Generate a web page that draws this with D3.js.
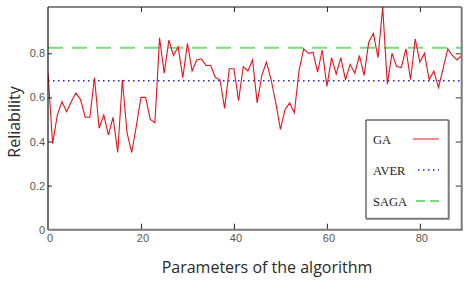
<!DOCTYPE html>
<html>
<head>
<meta charset="utf-8">
<script src="https://cdn.jsdelivr.net/npm/d3@7"></script>
<style>
  body { margin: 0; background: #fff; }
  .tick text { font-family: "Liberation Sans", Arial, sans-serif; font-size: 11px; fill: #555; }
  .axis-title { font-family: "Open Sans", sans-serif; font-size: 16px; fill: #2a2a2a; }
  .legend-label { font-family: "Liberation Serif", "Times New Roman", serif; font-size: 12.5px; fill: #222; }
</style>
</head>
<body>
<div id="chart"></div>
<script>
// x positions 0..89, GA reliability
const gaValues = [
  0.71, 0.39, 0.52, 0.58, 0.535, 0.58, 0.62, 0.59, 0.51, 0.51,
  0.69, 0.46, 0.52, 0.43, 0.51, 0.35, 0.68, 0.44, 0.35, 0.47,
  0.60, 0.60, 0.50, 0.485, 0.87, 0.71, 0.86, 0.79, 0.83, 0.69,
  0.845, 0.72, 0.77, 0.775, 0.745, 0.745, 0.69, 0.68, 0.55, 0.73,
  0.73, 0.585, 0.74, 0.72, 0.77, 0.575, 0.70, 0.76, 0.68, 0.575,
  0.455, 0.545, 0.575, 0.53, 0.72, 0.82, 0.80, 0.805, 0.715, 0.815,
  0.65, 0.78, 0.705, 0.78, 0.68, 0.75, 0.71, 0.79, 0.70, 0.85,
  0.89, 0.78, 1.01, 0.66, 0.80, 0.74, 0.735, 0.82, 0.68, 0.865,
  0.76, 0.80, 0.68, 0.72, 0.645, 0.73, 0.82, 0.79, 0.77, 0.79
];
const averValue = 0.676;
const sagaValue = 0.825;
const xTicks = [0, 20, 40, 60, 80];
const yTicks = [0, 0.2, 0.4, 0.6, 0.8];
const yTickLabels = ['0', '0.2', '0.4', '0.6', '0.8'];
const legendLabels = ['GA', 'AVER', 'SAGA'];

class ReliabilityChart {
  constructor(_config) {
    this.config = {
      parentElement: _config.parentElement,
      containerWidth: 470,
      containerHeight: 287,
      margin: { top: 7, left: 48, right: 8.3, bottom: 57.3 },
    };
    this.initVis();
  }

  initVis() {
    let vis = this;
    vis.width = vis.config.containerWidth - vis.config.margin.left - vis.config.margin.right;
    vis.height = vis.config.containerHeight - vis.config.margin.top - vis.config.margin.bottom;

    vis.svg = d3.select(vis.config.parentElement)
      .append('svg')
      .attr('width', vis.config.containerWidth)
      .attr('height', vis.config.containerHeight);

    vis.chart = vis.svg.append('g')
      .attr('transform', `translate(${vis.config.margin.left},${vis.config.margin.top})`);

    vis.xScale = d3.scaleLinear().domain([0, 89]).range([0, vis.width]);
    vis.yScale = d3.scaleLinear().domain([0, 1.01]).range([vis.height, 0]);

    vis.chart.append('clipPath').attr('id', 'plot-clip')
      .append('rect').attr('width', vis.width).attr('height', vis.height);

    vis.renderVis();
  }

  renderVis() {
    let vis = this;
    const plot = vis.chart.append('g').attr('clip-path', 'url(#plot-clip)');

    // reference lines
    plot.append('line')
      .attr('x1', 0).attr('x2', vis.width)
      .attr('y1', vis.yScale(sagaValue)).attr('y2', vis.yScale(sagaValue))
      .attr('stroke', '#77dd77').attr('stroke-width', 2)
      .attr('stroke-dasharray', '15,9');

    plot.append('line')
      .attr('x1', 0).attr('x2', vis.width)
      .attr('y1', vis.yScale(averValue)).attr('y2', vis.yScale(averValue))
      .attr('stroke', '#2626b8').attr('stroke-width', 1.5)
      .attr('stroke-dasharray', '1.5,3.5');

    const line = d3.line()
      .x((d, i) => vis.xScale(i))
      .y(d => vis.yScale(d));

    plot.append('path')
      .datum(gaValues)
      .attr('d', line)
      .attr('fill', 'none')
      .attr('stroke', '#e4141e')
      .attr('stroke-width', 1.1);

    // axes with inward ticks
    const yAxis = d3.axisLeft(vis.yScale).tickValues(yTicks)
      .tickFormat((d, i) => yTickLabels[i]).tickSize(-4).tickPadding(3);
    const yAxisG = vis.chart.append('g').call(yAxis);
    yAxisG.select('.domain').remove();
    yAxisG.selectAll('.tick line').attr('stroke', '#222').filter(d => d === 0).remove();

    const xAxis = d3.axisBottom(vis.xScale).tickValues(xTicks).tickSize(-6).tickPadding(5);
    const xAxisG = vis.chart.append('g').attr('transform', `translate(0,${vis.height})`).call(xAxis);
    xAxisG.select('.domain').remove();
    xAxisG.selectAll('.tick line').attr('stroke', '#222').filter(d => d === 0).remove();
    xAxisG.selectAll('.tick text').attr('dx', 1.5);

    const topAxisG = vis.chart.append('g')
      .call(d3.axisTop(vis.xScale).tickValues(xTicks.slice(1)).tickFormat('').tickSize(-5));
    topAxisG.select('.domain').remove();
    topAxisG.selectAll('.tick line').attr('stroke', '#222');

    const rightAxisG = vis.chart.append('g').attr('transform', `translate(${vis.width},0)`)
      .call(d3.axisRight(vis.yScale).tickValues(yTicks.slice(1)).tickFormat('').tickSize(-6));
    rightAxisG.select('.domain').remove();
    rightAxisG.selectAll('.tick line').attr('stroke', '#333');

    // frame
    vis.chart.append('line').attr('x1', 0).attr('x2', vis.width).attr('y1', 0).attr('y2', 0)
      .attr('stroke', '#111').attr('stroke-width', 1.2);
    vis.chart.append('line').attr('x1', 0).attr('x2', 0).attr('y1', 0).attr('y2', vis.height)
      .attr('stroke', '#111').attr('stroke-width', 1.2);
    vis.chart.append('line').attr('x1', 0).attr('x2', vis.width + 1).attr('y1', vis.height).attr('y2', vis.height)
      .attr('stroke', '#7a7a7a').attr('stroke-width', 2);
    vis.chart.append('line').attr('x1', vis.width).attr('x2', vis.width).attr('y1', 0).attr('y2', vis.height)
      .attr('stroke', '#7a7a7a').attr('stroke-width', 2);

    // axis titles
    vis.svg.append('text')
      .attr('class', 'axis-title')
      .attr('x', 267).attr('y', 273)
      .attr('text-anchor', 'middle')
      .text('Parameters of the algorithm');

    vis.svg.append('text')
      .attr('class', 'axis-title')
      .attr('transform', 'translate(20,122) rotate(-90)')
      .attr('text-anchor', 'middle')
      .text('Reliability');

    // legend
    const lg = vis.svg.append('g').attr('transform', 'translate(366,120)');
    const lw = 82.7, lh = 98.7;
    lg.append('rect').attr('width', lw).attr('height', lh).attr('fill', '#fff');
    lg.append('path').attr('d', `M0,${lh}V0H${lw}`).attr('fill', 'none').attr('stroke', '#222').attr('stroke-width', 1);
    lg.append('path').attr('d', `M${lw},0V${lh}H0`).attr('fill', 'none').attr('stroke', '#7a7a7a').attr('stroke-width', 2);

    const styles = [
      { stroke: '#e4141e', width: 1, dash: null, x1: 47 },
      { stroke: '#2626b8', width: 1.5, dash: '1.5,3.5', x1: 52 },
      { stroke: '#77dd77', width: 2, dash: '9,5', x1: 50 },
    ];
    legendLabels.forEach((label, i) => {
      const cy = 19 + i * 31;
      lg.append('text').attr('class', 'legend-label')
        .attr('x', 7).attr('y', cy + 4.5).text(label);
      lg.append('line')
        .attr('x1', styles[i].x1).attr('x2', 73)
        .attr('y1', cy).attr('y2', cy)
        .attr('stroke', styles[i].stroke)
        .attr('stroke-width', styles[i].width)
        .attr('stroke-dasharray', styles[i].dash);
    });
  }
}

new ReliabilityChart({ parentElement: '#chart' });
</script>
</body>
</html>
